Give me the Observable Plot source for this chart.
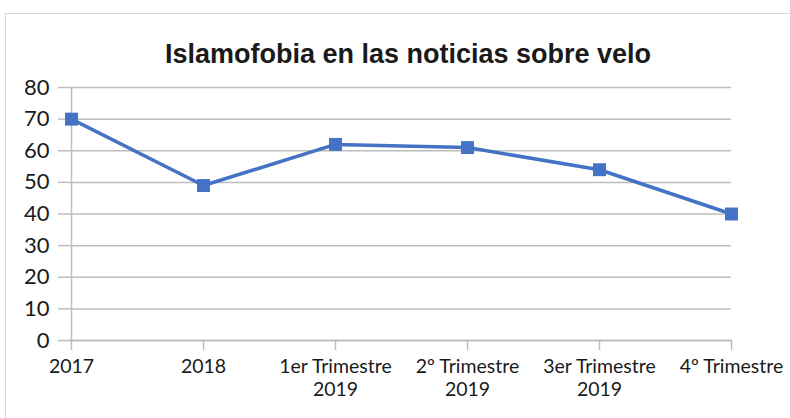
<!DOCTYPE html>
<html><head><meta charset="utf-8">
<script src="https://cdn.jsdelivr.net/npm/d3@7"></script>
<script src="https://cdn.jsdelivr.net/npm/@observablehq/plot@0.6"></script>
<style>
body{margin:0;background:#fff;width:790px;height:418px;overflow:hidden;position:relative;}
#frame{position:absolute;left:5px;top:13px;width:800px;height:420px;border:1px solid #d9d9d9;box-sizing:border-box;}
#title{position:absolute;left:0;top:39px;width:816px;text-align:center;font-family:"Liberation Sans",Arial,sans-serif;font-weight:bold;font-size:27px;color:#1a1a1a;}
#chart{position:absolute;left:0;top:70px;}
</style></head>
<body>
<div id="frame"></div>
<div id="title">Islamofobia en las noticias sobre velo</div>
<div id="chart"></div>
<script>
const categories = ["2017","2018","1er Trimestre 2019","2º Trimestre 2019","3er Trimestre 2019","4º Trimestre"];
const labels = ["2017","2018","1er Trimestre\n2019","2º Trimestre\n2019","3er Trimestre\n2019","4º Trimestre"];
const values = [70,49,62,61,54,40];
const yTicks = [0,10,20,30,40,50,60,70,80];

const data = categories.map((c,i)=>({cat:c, value:values[i]}));
const labelOf = new Map(categories.map((c,i)=>[c,labels[i]]));

const chart = Plot.plot({
  width: 790,
  height: 348,
  marginTop: 17,
  marginBottom: 78,
  marginLeft: 70,
  marginRight: 59,
  style: {fontFamily: "Lato, sans-serif", background: "transparent", color: "#222"},
  x: {type: "point", domain: categories, padding: 0},
  y: {domain: [0,80]},
  marks: [
    Plot.gridY(yTicks, {stroke: "#bdbdbd", strokeOpacity: 1, strokeWidth: 1.5}),
    Plot.ruleX([categories[0]], {y1: 0, y2: 80, stroke: "#bdbdbd", strokeWidth: 1.5}),
    Plot.ruleY([0], {stroke: "#bdbdbd", strokeWidth: 1.5}),
    Plot.axisY(yTicks, {tickSize: 12, tickPadding: 9, stroke: "#bdbdbd", strokeWidth: 1.5, fontSize: 22, fill: "#1a1a1a", label: null}),
    Plot.axisX({tickSize: 10, tickPadding: 7, stroke: "#bdbdbd", strokeWidth: 1.5, fontSize: 19.5, fill: "#1a1a1a", lineHeight: 1.15, tickFormat: d => labelOf.get(d), label: null}),
    Plot.line(data, {x: "cat", y: "value", stroke: "#4472C4", strokeWidth: 3.5}),
    Plot.dot(data, {x: "cat", y: "value", symbol: "square", r: 7.3, fill: "#4472C4", stroke: "none"})
  ]
});
document.getElementById("chart").appendChild(chart);
</script>
</body></html>
